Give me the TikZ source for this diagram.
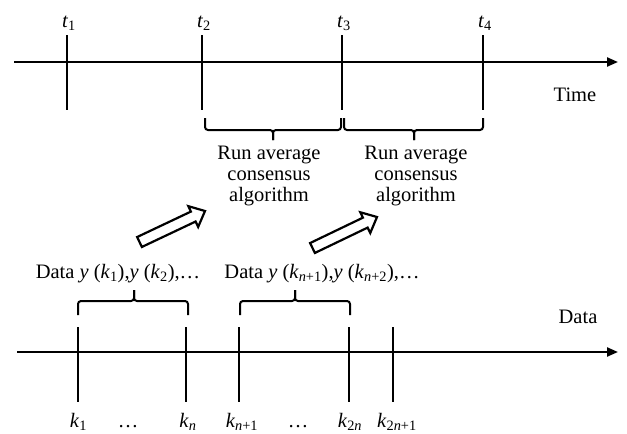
\documentclass[tikz,border=0pt]{standalone}
\usepackage{fontspec}
\setmainfont{Liberation Serif}
\usetikzlibrary{arrows.meta,calc}
\begin{document}
\begin{tikzpicture}[x=1pt,y=-1pt,
  axis/.style={line width=2.2pt,-{Triangle[length=11pt,width=9pt]}},
  tick/.style={line width=2.8pt},
  brc/.style={line width=2pt,rounded corners=3pt},
  lbl/.style={font=\fontsize{20.5}{21}\selectfont, inner sep=0pt, anchor=base},
  hollow/.style={line width=2.2pt, line join=miter, fill=white}]
\useasboundingbox (0,0) rectangle (627,434);

% ---------- time axis ----------
\coordinate (ta0) at (14,62);
\coordinate (ta1) at (618,62);
\draw[axis] (ta0) -- (ta1);
\foreach \i/\x in {1/67,2/202,3/342,4/483}{
  \coordinate (t\i a) at (\x,35);
  \coordinate (t\i b) at (\x,110);
  \draw[tick] (t\i a) -- (t\i b);
  \node[lbl] (tl\i) at (\x+2,27) {\textit{t}\textsubscript{\i}};
}
\node[lbl] (time) at (575,101) {Time};

% top braces
\draw[brc] (205,118) -- (205,130) -- (273,130) -- (273,140);
\draw[brc] (341,118) -- (341,130) -- (273,130) -- (273,140);
\draw[brc] (344,118) -- (344,130) -- (414,130) -- (414,140);
\draw[brc] (483,118) -- (483,130) -- (414,130) -- (414,140);

\node[lbl] (r1a) at (269,159) {Run average};
\node[lbl] (r1b) at (269,180) {consensus};
\node[lbl] (r1c) at (269,201) {algorithm};
\node[lbl] (r2a) at (416,159) {Run average};
\node[lbl] (r2b) at (416,180) {consensus};
\node[lbl] (r2c) at (416,201) {algorithm};

% ---------- hollow arrows ----------
\coordinate (a1t) at (139.5,242);
\coordinate (a1h) at (205,211);
\coordinate (a1b) at ($(a1h)!13pt!(a1t)$);
\draw[hollow] ($(a1t)!5.5pt!90:(a1h)$) -- ($(a1b)!5.5pt!90:(a1h)$)
  -- ($(a1b)!11.5pt!90:(a1h)$) -- (a1h) -- ($(a1b)!11.5pt!-90:(a1h)$)
  -- ($(a1b)!5.5pt!-90:(a1h)$) -- ($(a1t)!5.5pt!-90:(a1h)$) -- cycle;

\coordinate (a2t) at (312.5,248);
\coordinate (a2h) at (377,217);
\coordinate (a2b) at ($(a2h)!13pt!(a2t)$);
\draw[hollow] ($(a2t)!5.5pt!90:(a2h)$) -- ($(a2b)!5.5pt!90:(a2h)$)
  -- ($(a2b)!11.5pt!90:(a2h)$) -- (a2h) -- ($(a2b)!11.5pt!-90:(a2h)$)
  -- ($(a2b)!5.5pt!-90:(a2h)$) -- ($(a2t)!5.5pt!-90:(a2h)$) -- cycle;

% ---------- data labels ----------
\node[lbl] (d1) at (118,278) {Data \textit{y} (\textit{k}\textsubscript{1}),\textit{y} (\textit{k}\textsubscript{2}),\dots};
\node[lbl] (d2) at (322,278) {Data \textit{y} (\textit{k}\textsubscript{\textit{n}+1}),\textit{y} (\textit{k}\textsubscript{\textit{n}+2}),\dots};

% bottom braces
\draw[brc] (78,315) -- (78,301) -- (134,301) -- (134,290);
\draw[brc] (188,315) -- (188,301) -- (134,301) -- (134,290);
\draw[brc] (240,315) -- (240,301) -- (295,301) -- (295,290);
\draw[brc] (350,315) -- (350,301) -- (295,301) -- (295,290);

% ---------- data axis ----------
\coordinate (da0) at (17,352);
\coordinate (da1) at (618,352);
\draw[axis] (da0) -- (da1);
\foreach \n/\x in {1/78,2/186,3/239,4/349,5/393}{
  \coordinate (k\n a) at (\x,327);
  \coordinate (k\n b) at (\x,402);
  \draw[tick] (k\n a) -- (k\n b);
}
\node[lbl] (data) at (578,323) {Data};

\node[lbl] (kl1) at (78.5,427) {\textit{k}\textsubscript{1}};
\node[lbl] (dots1) at (128,427) {\dots};
\node[lbl] (kl2) at (188,427) {\textit{k}\textsubscript{\textit{n}}};
\node[lbl] (kl3) at (242,427) {\textit{k}\textsubscript{\textit{n}+1}};
\node[lbl] (dots2) at (298,427) {\dots};
\node[lbl] (kl4) at (350,427) {\textit{k}\textsubscript{2\textit{n}}};
\node[lbl] (kl5) at (397,427) {\textit{k}\textsubscript{2\textit{n}+1}};
\end{tikzpicture}
\end{document}
